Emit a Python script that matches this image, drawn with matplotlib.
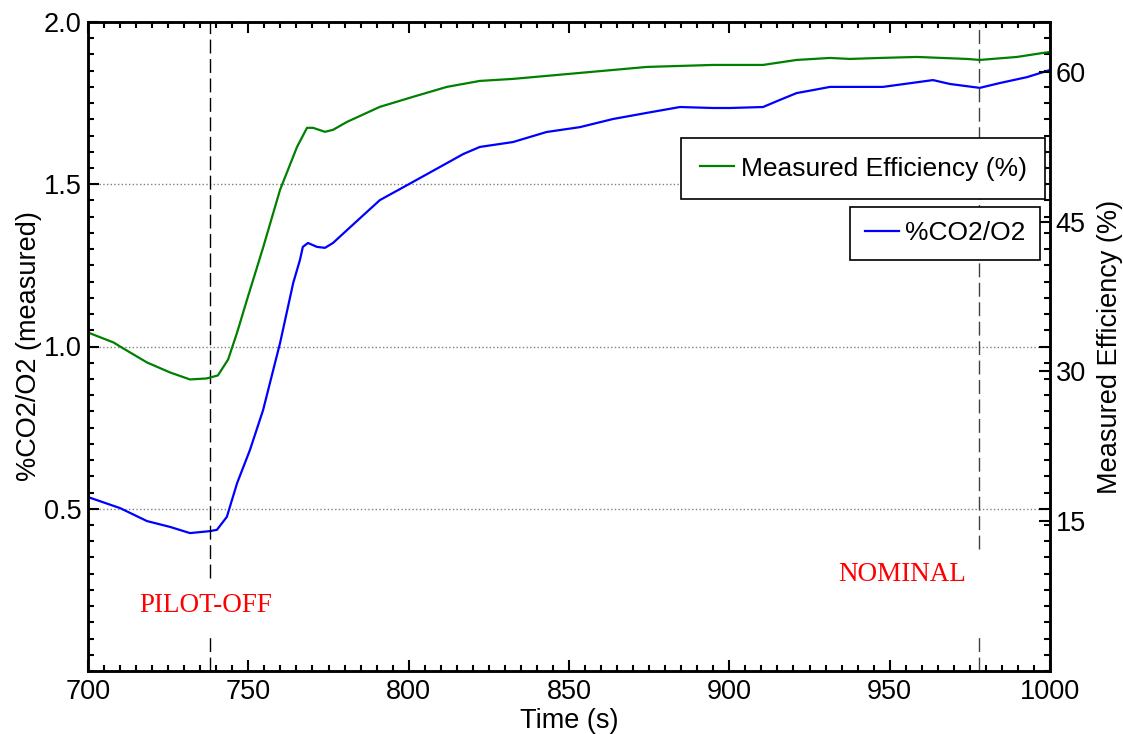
import matplotlib.pyplot as plt
from matplotlib.ticker import MultipleLocator

# Werte
time_eff = [700, 708, 710, 718.4, 725.6, 731.8, 737, 740.5, 743.7, 746.5, 749.6, 754.6,
            759.9, 765.2, 768.3, 770.2, 773.9, 776.4, 780.8, 791, 801.3, 811.9, 822.2,
            832.5, 853.4, 874.3, 894.9, 910.5, 921, 931.4, 937.6, 947, 958.5, 974.1,
            978.1, 989.7, 997.8, 1000]
efficiency = [33.9, 32.9, 32.5, 30.9, 29.9, 29.2, 29.3, 29.6, 31.2, 33.9, 37.2, 42.4,
              48.2, 52.5, 54.4, 54.4, 54.0, 54.2, 55.0, 56.5, 57.5, 58.5, 59.1,
              59.3, 59.9, 60.5, 60.7, 60.7, 61.2, 61.4, 61.3, 61.4, 61.5, 61.3,
              61.2, 61.5, 61.9, 62.0]

time_co2 = [700, 710, 718.4, 725.6, 731.8, 738, 740.2, 743.3, 746.5, 750.5, 754.6,
            759.9, 764, 766.1, 767, 768.6, 771.4, 773.9, 776.4, 780.8, 791, 801.3,
            811.9, 817, 822.2, 832.5, 843, 853.4, 863.7, 874.3, 884.6, 894.9, 900.2,
            910.5, 915.8, 921, 926, 931.4, 941.7, 947.9, 963.5, 968.8, 978.1, 984.4,
            992.8, 999, 1000]
co2_o2 = [0.536, 0.502, 0.462, 0.444, 0.425, 0.431, 0.435, 0.475, 0.579, 0.681, 0.804,
          1.011, 1.196, 1.267, 1.307, 1.319, 1.307, 1.304, 1.319, 1.359, 1.451, 1.507,
          1.565, 1.593, 1.615, 1.630, 1.661, 1.676, 1.701, 1.720, 1.738, 1.735, 1.735,
          1.738, 1.760, 1.781, 1.790, 1.800, 1.800, 1.800, 1.821, 1.809, 1.797, 1.812,
          1.830, 1.849, 1.852]

event_times = [738, 978]
event_labels = ['PILOT-OFF', 'NOMINAL']
label_x = [736.8, 953.8]
label_y = [0.203, 0.296]
# Luecke in der gestrichelten Linie (Achsenanteil)
gap_low = [0.059, 0.059]
gap_high = [0.143, 0.188]
event_colors = ['black', '#404040']

FS = 19.5
plt.rcParams['font.family'] = ['Liberation Sans', 'DejaVu Sans']
plt.rcParams['font.size'] = FS

fig = plt.figure(figsize=(11.23, 7.34), dpi=100)
ax = fig.add_axes([88 / 1123, 63 / 734, 962 / 1123, 649 / 734])
ax2 = ax.twinx()

ax.plot(time_co2, co2_o2, color='#0000ff', lw=1.6, label='%CO2/O2')
ax2.plot(time_eff, efficiency, color='#008000', lw=1.6, label='Measured Efficiency (%)')

# Ereignislinien
for t, c, lo, hi in zip(event_times, event_colors, gap_low, gap_high):
    ax.axvline(t, ymin=hi, ymax=1, color=c, lw=1.0, dashes=(10, 4))
    ax.axvline(t, ymin=0, ymax=lo, color=c, lw=1.0, dashes=(10, 4))
for x, y, txt in zip(label_x, label_y, event_labels):
    ax.text(x, y, txt, color='red', ha='center', va='center', fontsize=FS,
            family=['Liberation Serif', 'DejaVu Serif'])

ax.set_xlim(700, 1000)
ax.set_ylim(0, 2.0)
ax2.set_ylim(0, 65)

ax.set_xticks([700, 750, 800, 850, 900, 950, 1000])
ax.xaxis.set_minor_locator(MultipleLocator(5))
ax.set_yticks([0.5, 1.0, 1.5, 2.0])
ax.set_yticklabels(['0.5', '1.0', '1.5', '2.0'])
ax.yaxis.set_minor_locator(MultipleLocator(0.05))
ax2.set_yticks([15, 30, 45, 60])

ax.tick_params(which='both', direction='in', top=True, right=True, width=1.5)
ax.tick_params(which='major', length=8)
ax.tick_params(axis='y', which='major', pad=4.5)
ax.tick_params(axis='x', which='major', pad=6)
ax.tick_params(which='minor', length=4)
ax2.tick_params(direction='in', length=8, width=1.5, pad=4)

for a in (ax, ax2):
    for s in a.spines.values():
        s.set_linewidth(1.8)

ax.grid(axis='y', which='major', linestyle=':', color='gray', lw=1.0)

ax.set_xlabel('Time (s)', labelpad=2)
ax.set_ylabel('%CO2/O2 (measured)', labelpad=1)
ax2.set_ylabel('Measured Efficiency (%)', labelpad=8)

# zwei getrennte Legenden wie im Original
leg1 = ax2.legend(loc='upper right', bbox_to_anchor=(0.995, 0.821), fancybox=False,
                  edgecolor='black', framealpha=1, handlelength=1.3, borderpad=0.7,
                  handletextpad=0.25, borderaxespad=0, fontsize=19)
leg1.get_frame().set_linewidth(1.2)
h, l = ax.get_legend_handles_labels()
leg2 = ax2.legend(h, l, loc='upper right', bbox_to_anchor=(0.990, 0.715), fancybox=False,
                  edgecolor='black', framealpha=1, handlelength=1.3, borderpad=0.55,
                  handletextpad=0.25, borderaxespad=0, fontsize=19)
leg2.get_frame().set_linewidth(1.2)
ax2.add_artist(leg1)

fig.savefig('out.png', dpi=100)
